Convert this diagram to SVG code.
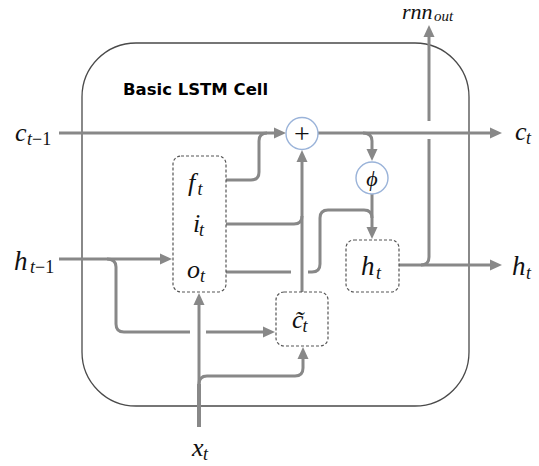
<svg xmlns="http://www.w3.org/2000/svg" width="539" height="466" viewBox="0 0 539 466">
<style>
.cell{fill:none;stroke:#4a4a4a;stroke-width:1.3}
.box{fill:#fff;stroke:#555;stroke-width:1.2;stroke-dasharray:3 2}
.op{fill:#fff;stroke:#9ab3d9;stroke-width:1.4}
.ln{fill:none;stroke:#888;stroke-width:3}
.arr{marker-end:url(#ah)}
.m{font-family:"Liberation Serif","Times New Roman","DejaVu Serif",serif;font-style:italic;font-size:26px;fill:#111}
.s{font-size:18px}
.n{font-style:normal}
.title{font-family:"DejaVu Sans","Liberation Sans",sans-serif;font-weight:bold;font-size:16.5px;fill:#000}
</style>
<defs>
<marker id="ah" viewBox="0 0 12 12" markerWidth="12" markerHeight="12" markerUnits="userSpaceOnUse" refX="3" refY="6" orient="auto">
<path d="M0,0.5 L12,6 L0,11.5 z" fill="#888"/>
</marker>
</defs>
<g id="cell">
<rect class="cell" x="82" y="43" width="387" height="363" rx="54" ry="54"/>
<text class="title" x="123" y="95">Basic LSTM Cell</text>
</g>
<g id="connectors">
<path class="ln arr" d="M59,133 H277"/>
<path class="ln arr" d="M318,133 H493"/>
<path class="ln" d="M226,180 H251 Q259,180 259,172 V141 Q259,133 267,133"/>
<path class="ln arr" d="M363,133 Q372,133 372,141 V152"/>
<path class="ln arr" d="M372,194 V230"/>
<path class="ln" d="M226,272 H291"/>
<path class="ln" d="M308,272 H312 Q320,272 320,264 V218 Q320,210 328,210 H364 Q372,210 372,218"/>
<path class="ln" d="M226,224 H294 Q302,224 302,216"/>
<path class="ln arr" d="M302,292 V159"/>
<path class="ln arr" d="M59,259 H163"/>
<path class="ln" d="M107,259 Q116,259 116,267 V324 Q116,332 124,332 H190"/>
<path class="ln arr" d="M206,332 H266"/>
<path class="ln arr" d="M199,384 V302"/>
<path class="ln" d="M199,427 V384" style="stroke-width:4"/>
<path class="ln arr" d="M199,384 Q199,376 207,376 H295 Q303,376 303,368 V356"/>
<path class="ln arr" d="M399,265 H493"/>
<path class="ln" d="M421,265 Q429,265 429,257 V139"/>
<path class="ln arr" d="M429,121 V34"/>
</g>
<g id="plus">
<circle class="op" cx="302" cy="133.5" r="16"/>
<text x="302" y="143" text-anchor="middle" style="font-family:'Liberation Serif',serif;font-size:28px;fill:#111">+</text>
</g>
<g id="phi">
<circle class="op" cx="372" cy="178" r="16"/>
<text class="m" x="372" y="186" text-anchor="middle" style="font-size:22px">ϕ</text>
</g>
<g id="gates">
<rect class="box" x="173" y="156" width="53" height="136" rx="8"/>
<text class="m" x="188" y="191">f<tspan class="s" x="197.5" y="195">t</tspan></text>
<text class="m" x="193" y="232">i<tspan class="s" x="199" y="236">t</tspan></text>
<text class="m" x="187" y="278">o<tspan class="s" x="200" y="282">t</tspan></text>
</g>
<g id="ctilde">
<rect class="box" x="276" y="292" width="52" height="54" rx="8"/>
<text class="m" x="292" y="328">c̃<tspan class="s" x="302.5" y="332">t</tspan></text>
</g>
<g id="hbox">
<rect class="box" x="346" y="240" width="53" height="52" rx="8"/>
<text class="m" x="361" y="275" style="font-size:27px">h<tspan class="s" x="376" y="279">t</tspan></text>
</g>
<g id="labels">
<text class="m" x="15" y="141">c<tspan class="s" x="27" y="145">t</tspan><tspan class="s n">−1</tspan></text>
<text class="m" x="14" y="270" style="font-size:27px">h<tspan class="s" x="30" y="273">t</tspan><tspan class="s n">−1</tspan></text>
<text class="m" x="515" y="140">c<tspan class="s" x="526" y="144">t</tspan></text>
<text class="m" x="512" y="275" style="font-size:27px">h<tspan class="s" x="526" y="279">t</tspan></text>
<text class="m" x="402" y="19" style="font-size:22px">rnn<tspan class="s" x="434" y="21" style="font-size:15px">out</tspan></text>
<text class="m" x="192" y="456">x<tspan class="s" x="203" y="460">t</tspan></text>
</g>
</svg>
